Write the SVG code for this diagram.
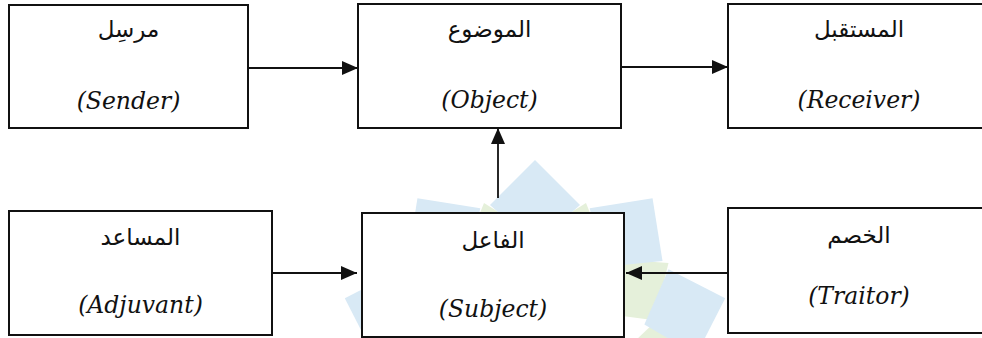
<svg xmlns="http://www.w3.org/2000/svg" width="982" height="338" viewBox="0 0 982 338">
<style>
.box{fill:#fff;stroke:#111;stroke-width:2}
.ar{font-family:"DejaVu Sans",sans-serif;font-size:23px;fill:#111;text-anchor:middle}
.en{font-family:"DejaVu Serif",serif;font-size:23.5px;fill:#111;text-anchor:middle;font-style:italic}
.con{stroke:#111;stroke-width:1.8;fill:none;marker-end:url(#ah)}
.pb{fill:#d8e9f5}
.pg{fill:#e5f0da}
</style>
<defs>
<marker id="ah" markerUnits="userSpaceOnUse" markerWidth="16" markerHeight="14" refX="16" refY="7" orient="auto">
<path d="M0,0 L16,7 L0,14 Z" fill="#111"/>
</marker>
<path id="petal" d="M0,-115 L-45,-155 L0,-200 L45,-155 Z"/>
<path id="petal2" d="M0,-80 L-38,-120 L0,-165 L38,-120 Z"/>
</defs>
<rect width="982" height="338" fill="#fff"/>
<g id="watermark" transform="translate(535,360)">
<use href="#petal2" class="pg" transform="rotate(18)"/>
<use href="#petal2" class="pg" transform="rotate(54)"/>
<use href="#petal2" class="pg" transform="rotate(90)"/>
<use href="#petal2" class="pg" transform="rotate(-18)"/>
<use href="#petal2" class="pg" transform="rotate(-54)"/>
<use href="#petal2" class="pg" transform="rotate(-90)"/>
<use href="#petal" class="pb"/>
<use href="#petal" class="pb" transform="rotate(36)"/>
<use href="#petal" class="pb" transform="rotate(-36)"/>
<use href="#petal" class="pb" transform="rotate(72)"/>
<use href="#petal" class="pb" transform="rotate(-72)"/>
<use href="#petal" class="pb" transform="rotate(108)"/>
<use href="#petal" class="pb" transform="rotate(-108)"/>
</g>
<g id="connectors">
<line class="con" x1="248" y1="68" x2="358" y2="68"/>
<line class="con" x1="621" y1="67" x2="728" y2="67"/>
<line class="con" x1="498" y1="198" x2="498" y2="128"/>
<line class="con" x1="272" y1="273" x2="357" y2="273"/>
<line class="con" x1="728" y1="273" x2="626" y2="273"/>
</g>
<g id="sender">
<rect class="box" x="9" y="5" width="239" height="123"/>
<text class="ar" x="128.5" y="37">مرسِل</text>
<text class="en" x="128.5" y="109">(Sender)</text>
</g>
<g id="object">
<rect class="box" x="358" y="4" width="263" height="124"/>
<text class="ar" x="489.5" y="37">الموضوع</text>
<text class="en" x="489.5" y="108">(Object)</text>
</g>
<g id="receiver">
<rect class="box" x="728" y="4" width="262" height="124"/>
<text class="ar" x="859" y="37">المستقبل</text>
<text class="en" x="859" y="108">(Receiver)</text>
</g>
<g id="adjuvant">
<rect class="box" x="9" y="211" width="263" height="124"/>
<text class="ar" x="140.5" y="245">المساعد</text>
<text class="en" x="140.5" y="313">(Adjuvant)</text>
</g>
<g id="subject">
<rect class="box" x="362" y="213" width="262" height="124"/>
<text class="ar" x="493" y="248">الفاعل</text>
<text class="en" x="493" y="317">(Subject)</text>
</g>
<g id="traitor">
<rect class="box" x="728" y="208" width="262" height="125"/>
<text class="ar" x="859" y="243">الخصم</text>
<text class="en" x="859" y="304">(Traitor)</text>
</g>
</svg>
